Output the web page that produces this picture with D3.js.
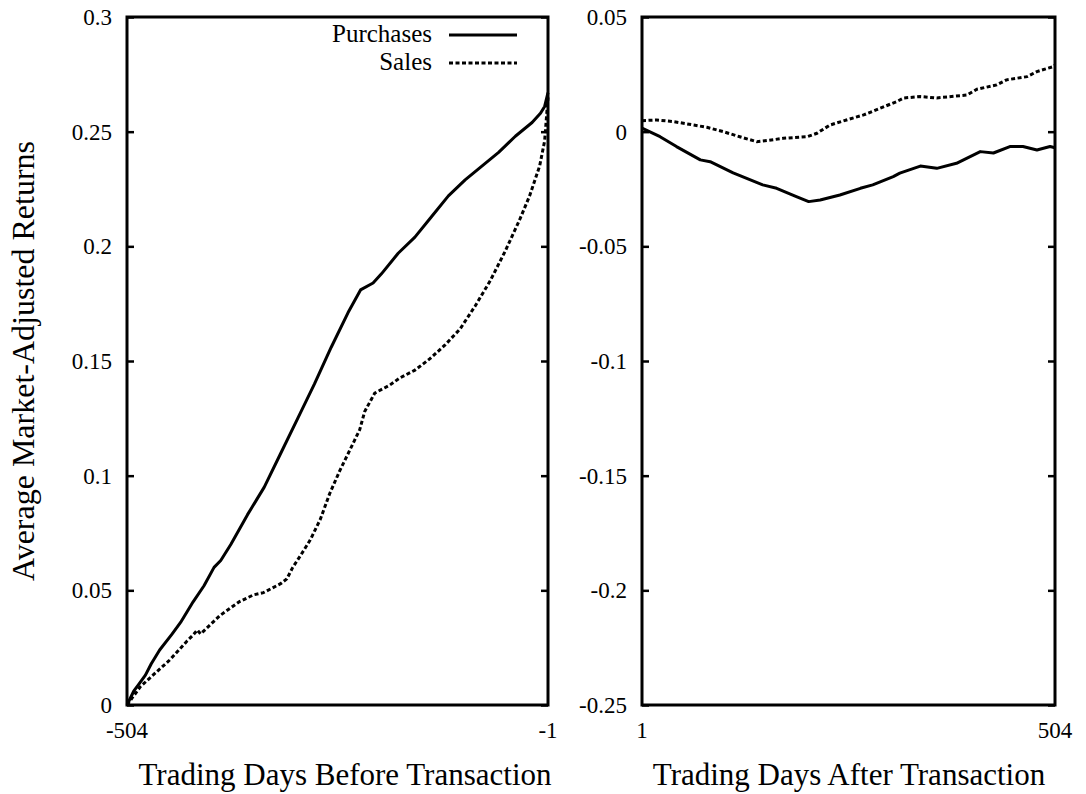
<!DOCTYPE html>
<html>
<head>
<meta charset="utf-8">
<script src="https://cdn.jsdelivr.net/npm/d3@7"></script>
<style>
  body { margin: 0; background: #fff; }
</style>
</head>
<body>
<div id="chart"></div>
<script>
// days before transaction, [day, average market-adjusted return]
const purchasesBefore = [
  [-504, 0], [-496, 0.006], [-490, 0.009], [-482, 0.013], [-475, 0.018], [-465, 0.024],
  [-450, 0.031], [-440, 0.036], [-425, 0.045], [-412, 0.052], [-400, 0.060], [-392, 0.063],
  [-380, 0.070], [-360, 0.083], [-340, 0.095], [-320, 0.110], [-300, 0.125], [-280, 0.140],
  [-260, 0.156], [-240, 0.171], [-225, 0.181], [-210, 0.184], [-200, 0.188], [-180, 0.197],
  [-160, 0.204], [-140, 0.213], [-120, 0.222], [-100, 0.229], [-80, 0.235], [-60, 0.241],
  [-40, 0.248], [-20, 0.254], [-10, 0.258], [-5, 0.261], [-1, 0.267]
];
const salesBefore = [
  [-504, 0], [-497, 0.0035], [-488, 0.008], [-473, 0.013], [-453, 0.0196], [-432, 0.028],
  [-425, 0.0305], [-420, 0.0327], [-416, 0.031], [-393, 0.039], [-370, 0.045], [-353, 0.048],
  [-341, 0.049], [-320, 0.053], [-313, 0.055], [-306, 0.060], [-297, 0.065], [-285, 0.072],
  [-273, 0.081], [-262, 0.092], [-250, 0.102], [-238, 0.111], [-226, 0.120], [-220, 0.128],
  [-208, 0.136], [-190, 0.1395], [-178, 0.1426], [-160, 0.146], [-142, 0.151], [-124, 0.157],
  [-106, 0.164], [-88, 0.174], [-70, 0.185], [-52, 0.198], [-35, 0.2115], [-23, 0.222],
  [-11, 0.235], [-5, 0.246], [-1, 0.265]
];
// days after transaction
const purchasesAfter = [
  [1, 0.0015], [23, -0.0022], [43, -0.0065], [72, -0.0123], [84, -0.0131], [112, -0.018],
  [148, -0.0232], [165, -0.0247], [189, -0.0283], [204, -0.0305], [218, -0.0298], [242, -0.0276],
  [267, -0.0247], [282, -0.0232], [307, -0.0196], [315, -0.0181], [340, -0.015], [360, -0.016],
  [384, -0.0138], [413, -0.0087], [429, -0.0093], [449, -0.0065], [465, -0.0065], [482, -0.008],
  [498, -0.0065], [504, -0.007]
];
const salesAfter = [
  [1, 0.0048], [19, 0.0051], [39, 0.0044], [64, 0.0029], [80, 0.0019], [100, 0],
  [120, -0.0022], [141, -0.0044], [153, -0.0039], [173, -0.0029], [202, -0.0022], [214, -0.0007],
  [230, 0.0029], [250, 0.0051], [271, 0.0073], [291, 0.0102], [311, 0.0131], [320, 0.0147],
  [340, 0.0153], [360, 0.0147], [397, 0.016], [409, 0.0185], [433, 0.0204], [445, 0.0226],
  [470, 0.024], [482, 0.0262], [502, 0.0284], [504, 0.029]
];

const leftYTicks = [0, 0.05, 0.1, 0.15, 0.2, 0.25, 0.3];
const rightYTicks = [-0.25, -0.2, -0.15, -0.1, -0.05, 0, 0.05];
const leftXTicks = [-504, -1];
const rightXTicks = [1, 504];
const seriesNames = ["Purchases", "Sales"];

const width = 1086, height = 794;
const plotTop = 17, plotBottom = 705;
const serif = "'Liberation Serif', 'Times New Roman', Tinos, 'DejaVu Serif', serif";

const svg = d3.select("#chart").append("svg")
  .attr("width", width)
  .attr("height", height)
  .attr("font-family", serif)
  .style("font-family", serif);

function fmt(v) {
  return v === 0 ? "0" : String(+v.toFixed(2));
}

function drawPanel(opts) {
  const x = d3.scaleLinear().domain(opts.xDomain).range([opts.x0, opts.x1]);
  const y = d3.scaleLinear().domain(opts.yDomain).range([plotBottom, plotTop]);

  const g = svg.append("g");

  // y axis, ticks inside on both sides
  g.append("g")
    .attr("transform", `translate(${opts.x0},0)`)
    .call(d3.axisRight(y).tickValues(opts.yTicks).tickSize(7).tickFormat(""));
  g.append("g")
    .attr("transform", `translate(${opts.x1},0)`)
    .call(d3.axisLeft(y).tickValues(opts.yTicks).tickSize(7).tickFormat(""));
  g.selectAll(".domain").remove();
  g.selectAll(".tick line").attr("stroke", "#000").attr("stroke-width", 2.5);

  g.selectAll("text.ylab")
    .data(opts.yTicks)
    .enter()
    .append("text")
    .attr("class", "ylab")
    .attr("x", opts.x0 - 15)
    .attr("y", d => y(d))
    .attr("dy", "0.35em")
    .attr("text-anchor", "end")
    .style("font-size", "23px")
    .text(fmt);

  g.selectAll("text.xlab")
    .data(opts.xTicks)
    .enter()
    .append("text")
    .attr("class", "xlab")
    .attr("x", d => x(d))
    .attr("y", plotBottom + 33)
    .attr("text-anchor", "middle")
    .style("font-size", "23px")
    .text(d => d);

  const line = d3.line()
    .x(d => x(d[0]))
    .y(d => y(d[1]));

  g.append("path")
    .datum(opts.purchases)
    .attr("d", line)
    .attr("fill", "none")
    .attr("stroke", "#000")
    .attr("stroke-width", 3)
    .attr("stroke-linejoin", "round");

  g.append("path")
    .datum(opts.sales)
    .attr("d", line)
    .attr("fill", "none")
    .attr("stroke", "#000")
    .attr("stroke-width", 3)
    .attr("stroke-dasharray", "4,2.5");

  // frame
  g.append("rect")
    .attr("x", opts.x0)
    .attr("y", plotTop)
    .attr("width", opts.x1 - opts.x0)
    .attr("height", plotBottom - plotTop)
    .attr("fill", "none")
    .attr("stroke", "#000")
    .attr("stroke-width", 3);

  g.append("text")
    .attr("x", opts.titleX)
    .attr("y", 785)
    .attr("text-anchor", "middle")
    .style("font-size", "31px")
    .text(opts.xTitle);
}

drawPanel({
  x0: 127, x1: 548, titleX: 345,
  xDomain: [-504, -1], yDomain: [0, 0.3],
  yTicks: leftYTicks, xTicks: leftXTicks,
  purchases: purchasesBefore, sales: salesBefore,
  xTitle: "Trading Days Before Transaction"
});

drawPanel({
  x0: 642, x1: 1055, titleX: 849,
  xDomain: [1, 504], yDomain: [-0.25, 0.05],
  yTicks: rightYTicks, xTicks: rightXTicks,
  purchases: purchasesAfter, sales: salesAfter,
  xTitle: "Trading Days After Transaction"
});

// y title
svg.append("text")
  .attr("transform", "translate(34,361) rotate(-90)")
  .attr("text-anchor", "middle")
  .style("font-size", "32px")
  .text("Average Market-Adjusted Returns");

// legend
const legend = svg.append("g");
seriesNames.forEach((name, i) => {
  const ly = 35 + i * 28;
  legend.append("text")
    .attr("x", 432)
    .attr("y", ly + 7)
    .attr("text-anchor", "end")
    .style("font-size", "25px")
    .text(name);
  legend.append("line")
    .attr("x1", 449).attr("x2", 517)
    .attr("y1", ly).attr("y2", ly)
    .attr("stroke", "#000")
    .attr("stroke-width", 3)
    .attr("stroke-dasharray", i === 1 ? "4,2.5" : null);
});
</script>
</body>
</html>
